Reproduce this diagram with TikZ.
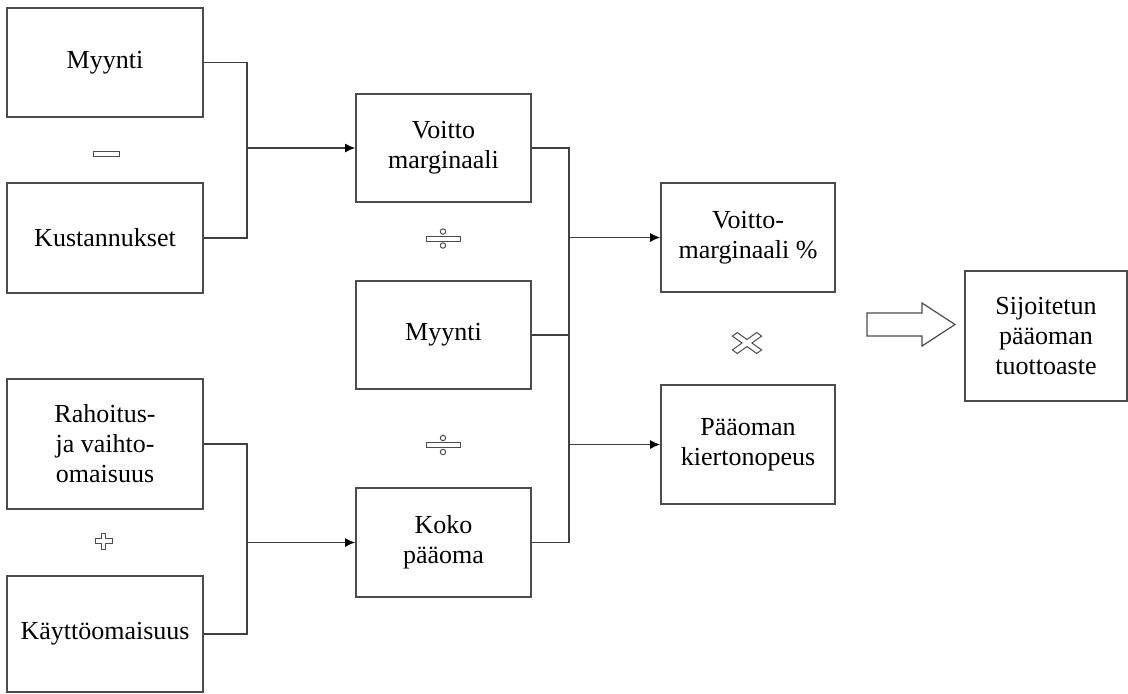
\documentclass[tikz,border=0pt]{standalone}
\usepackage{fontspec}
\setmainfont{Liberation Serif}
\usetikzlibrary{arrows.meta, positioning, calc}

\begin{document}
\begin{tikzpicture}[
  x=0.5pt, y=-0.5pt,
  every node/.style={font=\fontsize{13}{15}\selectfont},
  box/.style={draw=black!70, line width=0.8pt, align=center, inner sep=0pt},
  lbox/.style={box, minimum width=98pt},
  mbox/.style={box, minimum width=87.5pt},
  rbox/.style={box, minimum width=87pt},
  conn/.style={draw=black!75, line width=0.75pt},
  arr/.style={conn, -{Latex[length=5pt, width=4.5pt, color=black]}},
  opsign/.style={draw=black!70, line width=0.5pt, fill=white}
]
  \useasboundingbox (0,0) rectangle (1128,693);

  % vasen sarake
  \node[lbox, minimum height=54.5pt] (myynti1) at (105,62.5) {Myynti};
  \node[lbox, minimum height=55pt] (kust) at (105,238) {Kustannukset};
  \node[lbox, minimum height=65pt] (rahoitus) at (105,444) {Rahoitus-\\ja vaihto-\\omaisuus};
  \node[lbox, minimum height=58pt] (kaytto) at (105,634) {Käyttöomaisuus};

  % keskisarake
  \node[mbox, minimum height=54pt] (voitto) at (443.5,148) {Voitto\\marginaali};
  \node[mbox, minimum height=54pt] (myynti2) at (443.5,335) {Myynti};
  \node[mbox, minimum height=54.5pt] (koko) at (443.5,542.5) {Koko\\pääoma};

  % oikea sarake
  \node[rbox, minimum height=54.5pt] (vmpros) at (748,237.5) {Voitto-\\marginaali \%};
  \node[rbox, minimum height=59.5pt] (kierto) at (748,444.5) {Pääoman\\kiertonopeus};
  \node[box, minimum width=81pt, minimum height=65pt] (roi) at (1046,336) {Sijoitetun\\pääoman\\tuottoaste};

  % liitokset
  \coordinate (j1) at (247,148);
  \coordinate (j2) at (569,237.5);
  \coordinate (j3) at (569,444.5);
  \coordinate (j4) at (247,542.5);

  \draw[conn] (myynti1.east) -| (j1) |- (kust.east);
  \draw[arr] (j1) -- (voitto.west);
  \draw[conn] (rahoitus.east) -| (j4) |- (kaytto.east);
  \draw[arr] (j4) -- (koko.west);
  \draw[conn] (voitto.east) -| (j2) |- (myynti2.east);
  \draw[arr] (j2) -- (vmpros.west);
  \draw[conn] (myynti2.east) -| (j3) |- (koko.east);
  \draw[arr] (j3) -- (kierto.west);

  % laskumerkit
  \draw[opsign] (93,151) rectangle (119,156);
  \foreach \y in {238.5,445} {
    \draw[opsign] (426,\y-2.5) rectangle (460,\y+2.5);
    \draw[opsign] (443,\y-7) circle[radius=1.35pt];
    \draw[opsign] (443,\y+7) circle[radius=1.35pt];
  }
  \draw[opsign, shift={(103.5,541)}]
    (-8.5,-2.2) -- (-2.2,-2.2) -- (-2.2,-8) -- (2.2,-8) -- (2.2,-2.2) -- (8.5,-2.2)
    -- (8.5,2.2) -- (2.2,2.2) -- (2.2,8) -- (-2.2,8) -- (-2.2,2.2) -- (-8.5,2.2) -- cycle;
  \draw[opsign, shift={(747,343)}, xscale=1.4, rotate=45]
    (-12.3,-2.5) -- (-2.5,-2.5) -- (-2.5,-12.3) -- (2.5,-12.3) -- (2.5,-2.5) -- (12.3,-2.5)
    -- (12.3,2.5) -- (2.5,2.5) -- (2.5,12.3) -- (-2.5,12.3) -- (-2.5,2.5) -- (-12.3,2.5) -- cycle;

  % iso nuoli
  \draw[opsign, line width=0.6pt] (867,313) -- (922,313) -- (922,303) -- (955,324.5)
    -- (922,346) -- (922,336) -- (867,336) -- cycle;
\end{tikzpicture}
\end{document}
